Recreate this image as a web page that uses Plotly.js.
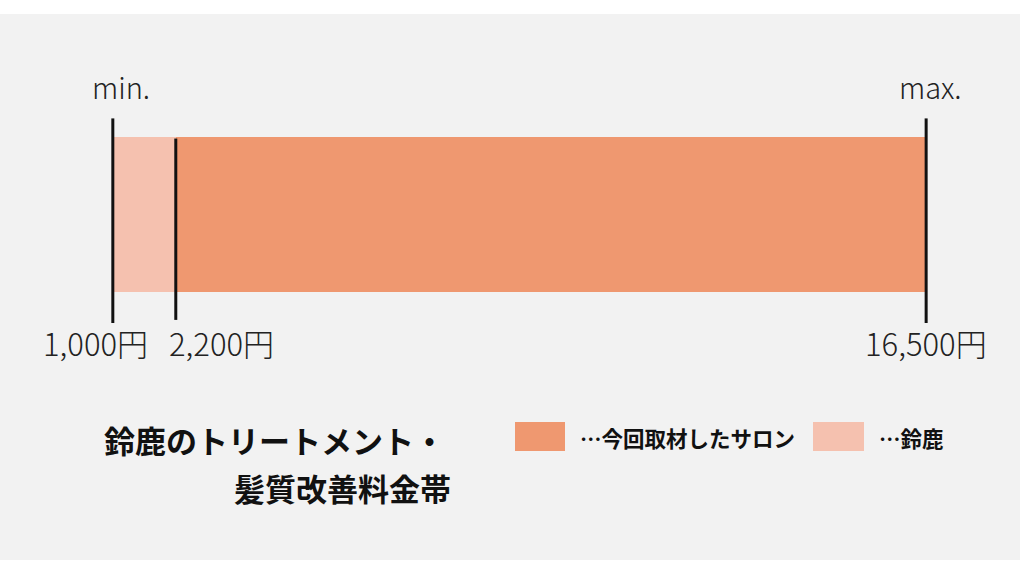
<!DOCTYPE html>
<html>
<head>
<meta charset="utf-8">
<script src="https://cdn.plot.ly/plotly-3.0.1.min.js"></script>
<style>
  html, body { margin: 0; padding: 0; background: #ffffff; }
  #chart { width: 1024px; height: 562px; }
</style>
</head>
<body>
<div id="chart"></div>
<script>
// price range data (yen)
var suzukaRange = [1000, 2200];     // 鈴鹿
var salonRange = [2200, 16500];     // 今回取材したサロン
var markValues = [1000, 2200, 16500];
var markLabels = ["1,000円", "2,200円", "16,500円"];
var seriesNames = ["…今回取材したサロン", "…鈴鹿"];
var titleLines = ["鈴鹿のトリートメント・", "髪質改善料金帯"];

var orange = "#ef9870";
var pink = "#f5c1af";
var jpFont = "Noto Sans CJK JP, Noto Sans, sans-serif";

var traces = [];

traces.push({
    type: "bar",
    orientation: "h",
    y: [0],
    base: [suzukaRange[0]],
    x: [suzukaRange[1] - suzukaRange[0]],
    width: 1,
    marker: { color: pink },
    name: seriesNames[1],
    hoverinfo: "skip"
});
traces.push({
    type: "bar",
    orientation: "h",
    y: [0],
    base: [salonRange[0]],
    x: [salonRange[1] - salonRange[0]],
    width: 1,
    marker: { color: orange },
    name: seriesNames[0],
    hoverinfo: "skip"
});

// black marker lines at min / salon min / max
var lineExtent = [[0.62, -0.70], [0.49, -0.68], [0.62, -0.70]];
for (var i = 0; i < markValues.length; i++) {
    traces.push({
        type: "scatter",
        mode: "lines",
        x: [markValues[i], markValues[i]],
        y: lineExtent[i],
        line: { color: "#111111", width: 3 },
        hoverinfo: "skip"
    });
}

var annotations = [];
annotations.push({ x: markValues[0], y: 1 - 86 / 562, xref: "x", yref: "paper", yanchor: "middle", text: "min.", showarrow: false,
    font: { family: jpFont, size: 29, color: "#222222", weight: 300 }, xshift: 8 });
annotations.push({ x: markValues[2], y: 1 - 86 / 562, xref: "x", yref: "paper", yanchor: "middle", text: "max.", showarrow: false,
    font: { family: jpFont, size: 29, color: "#222222", weight: 300 }, xshift: 4 });

var tickAnchor = ["right", "left", "center"];
var tickShift = [37, -9, 31];
for (var j = 0; j < markValues.length; j++) {
    annotations.push({
        x: markValues[j], y: 1 - 342 / 562, xref: "x", yref: "paper", yanchor: "middle",
        text: markLabels[j], showarrow: false, xanchor: tickAnchor[j], xshift: j == 2 ? 0 : tickShift[j],
        font: { family: jpFont, size: 31, color: "#222222", weight: 300 }
    });
}

annotations.push({ x: 447 / 1024, y: 1 - 439 / 562, xref: "paper", yref: "paper", yanchor: "middle", text: titleLines[0],
    showarrow: false, xanchor: "right", font: { family: jpFont, size: 31, color: "#111111", weight: 700 } });
annotations.push({ x: 453 / 1024, y: 1 - 487 / 562, xref: "paper", yref: "paper", yanchor: "middle", text: titleLines[1],
    showarrow: false, xanchor: "right", font: { family: jpFont, size: 31, color: "#111111", weight: 700 } });

annotations.push({ x: 578 / 1024, y: 1 - 437 / 562, xref: "paper", yref: "paper", yanchor: "middle", text: seriesNames[0],
    showarrow: false, xanchor: "left", font: { family: jpFont, size: 21.5, color: "#111111", weight: 700 } });
annotations.push({ x: 877 / 1024, y: 1 - 437 / 562, xref: "paper", yref: "paper", yanchor: "middle", text: seriesNames[1],
    showarrow: false, xanchor: "left", font: { family: jpFont, size: 21.5, color: "#111111", weight: 700 } });

var shapes = [
    { type: "rect", xref: "paper", yref: "paper", x0: 0, x1: 1020 / 1024, y0: 1 - 560 / 562, y1: 1 - 14 / 562,
      fillcolor: "#f2f2f2", line: { width: 0 }, layer: "below" },
    { type: "rect", xref: "paper", yref: "paper", x0: 515 / 1024, x1: 565 / 1024, y0: 1 - 451 / 562, y1: 1 - 422 / 562,
      fillcolor: orange, line: { width: 0 } },
    { type: "rect", xref: "paper", yref: "paper", x0: 813 / 1024, x1: 864 / 1024, y0: 1 - 451 / 562, y1: 1 - 422 / 562,
      fillcolor: pink, line: { width: 0 } }
];

var layout = {
    width: 1024,
    height: 562,
    margin: { l: 0, r: 0, t: 0, b: 0 },
    paper_bgcolor: "#ffffff",
    plot_bgcolor: "rgba(0,0,0,0)",
    showlegend: false,
    barmode: "overlay",
    xaxis: { range: [-1150, 18365], visible: false, fixedrange: true },
    yaxis: { range: [-2.242, 1.384], visible: false, fixedrange: true },
    annotations: annotations,
    shapes: shapes
};

Plotly.newPlot("chart", traces, layout, { displayModeBar: false, staticPlot: true });
</script>
</body>
</html>
